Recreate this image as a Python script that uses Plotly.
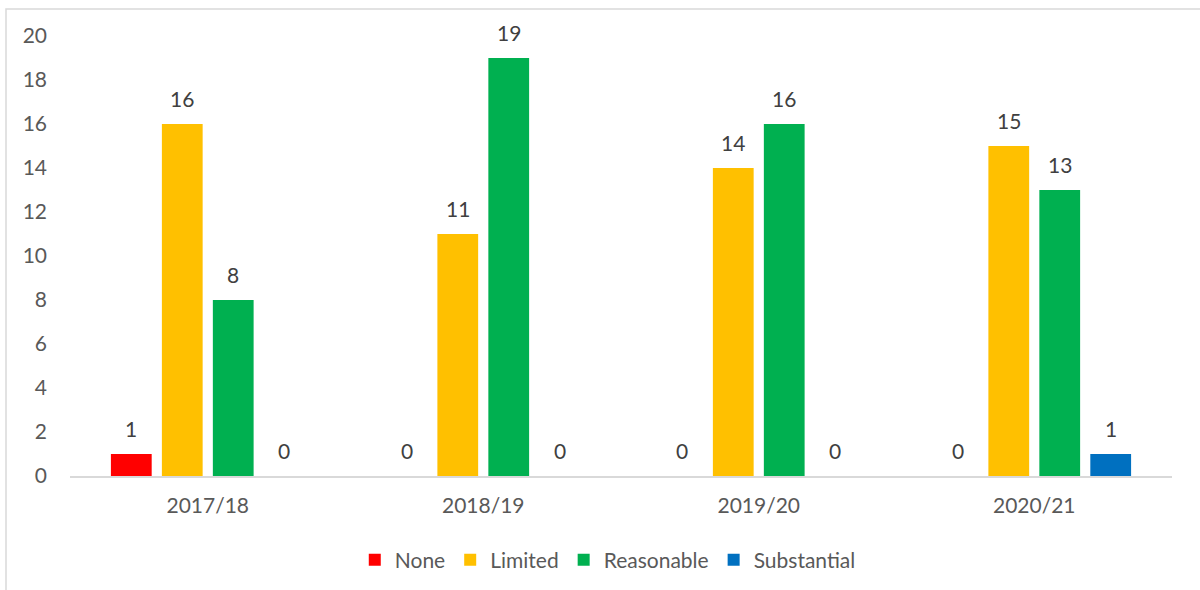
import plotly.graph_objects as go

categories = ["2017/18", "2018/19", "2019/20", "2020/21"]
series_names = ["None", "Limited", "Reasonable", "Substantial"]
none_vals = [1, 0, 0, 0]
limited_vals = [16, 11, 14, 15]
reasonable_vals = [8, 19, 16, 13]
substantial_vals = [0, 0, 0, 1]
colors = ["#FF0000", "#FFC000", "#00B050", "#0070C0"]

all_vals = [none_vals, limited_vals, reasonable_vals, substantial_vals]

FONT = "Lato"
TXT = "#595959"
FS = 21

fig = go.Figure()
for name, vals, col in zip(series_names, all_vals, colors):
    fig.add_trace(go.Bar(name=name, x=categories, y=vals, marker=dict(color=col, line=dict(width=0))))

# value labels
L, R, T, B = 70, 28, 36, 114
W = 1200 - L - R
cat_w = W / len(categories)
bargap = 0.26
slot = cat_w * (1 - bargap) / len(series_names)
for si, vals in enumerate(all_vals):
    for ci, v in enumerate(vals):
        fig.add_annotation(x=categories[ci], y=v, xref="x", yref="y", text=str(v),
                           showarrow=False, yanchor="bottom", yshift=11,
                           xshift=(si - 1.5) * slot,
                           font=dict(family=FONT, size=FS, color="#404040"))

fig.update_layout(
    width=1200, height=590,
    margin=dict(l=L, r=R, t=T, b=B, autoexpand=False),
    paper_bgcolor="white", plot_bgcolor="white",
    barmode="group", bargap=bargap, bargroupgap=0.2,
    font=dict(family=FONT, size=FS, color=TXT),
    showlegend=True,
    legend=dict(orientation="h", x=0.488, xanchor="center", yref="container", y=1 - 560 / 590,
                yanchor="middle",
                font=dict(family=FONT, size=FS, color=TXT), itemwidth=30, traceorder="normal"),
    xaxis=dict(showline=True, linecolor="#d9d9d9", linewidth=2, ticks="", showgrid=False,
               tickfont=dict(family=FONT, size=FS, color=TXT), ticklabelstandoff=10),
    yaxis=dict(range=[0, 20], dtick=2, showgrid=False, zeroline=False, showline=False, ticks="",
               tickfont=dict(family=FONT, size=FS, color=TXT), ticklabelstandoff=22),
    shapes=[dict(type="rect", xref="paper", yref="paper",
                 x0=(6 - L) / W, x1=1.2, y0=-0.5, y1=(476 - 9) / 440,
                 line=dict(color="#d9d9d9", width=1.5), fillcolor="rgba(0,0,0,0)", layer="below")],
)

fig.write_html("out.html")
